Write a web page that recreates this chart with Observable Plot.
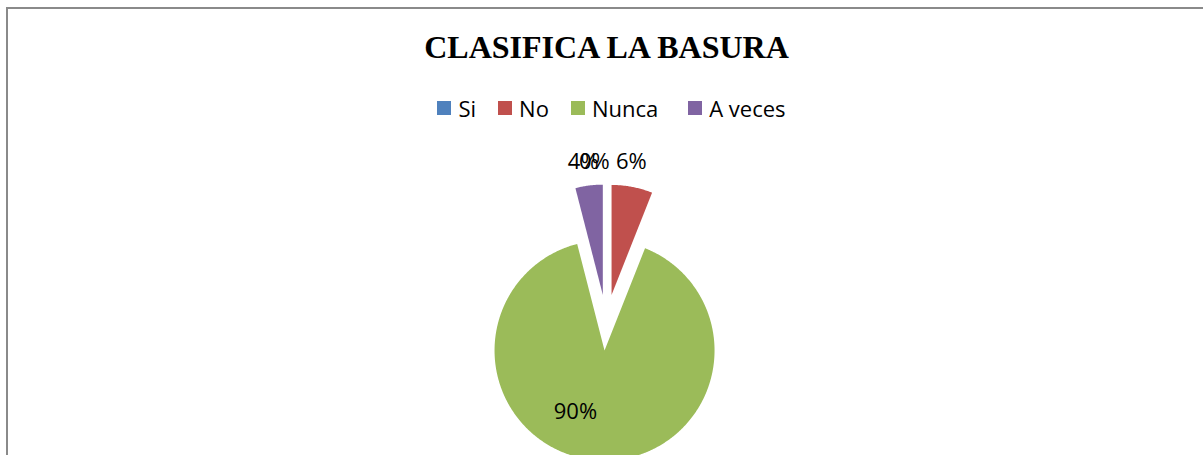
<!DOCTYPE html>
<html>
<head>
<meta charset="utf-8">
<script src="https://cdn.jsdelivr.net/npm/d3@7"></script>
<script src="https://cdn.jsdelivr.net/npm/@observablehq/plot@0.6"></script>
<style>
  html, body { margin: 0; padding: 0; background: #fff; }
  #root { position: relative; width: 1203px; height: 455px; overflow: hidden; background: #fff; }
  #frame { position: absolute; left: 6px; top: 7px; width: 1300px; height: 600px;
           border-left: 2px solid #8a8a8a; border-top: 2px solid #8a8a8a; box-sizing: border-box; }
  #title { position: absolute; left: 0; top: 31px; width: 1203px; padding-left: 10px; box-sizing: border-box;
           text-align: center; font-family: "Liberation Serif", "Times New Roman", serif; font-weight: bold;
           font-size: 32px; line-height: 32px; color: #000; }
  #legend { position: absolute; left: 0; top: 97px; width: 1203px; padding-left: 20px; box-sizing: border-box;
            display: flex; justify-content: center; }
  #legend > div { font-family: "Open Sans", sans-serif !important; font-size: 22px !important; line-height: 22px !important;
                  color: #000; margin: 0 !important; min-height: 0 !important; display: flex; align-items: center; }
  #legend span { margin-right: 22px !important; display: inline-flex; align-items: center; }
  #legend span:nth-of-type(3) { margin-right: 30px !important; }
  #legend span:last-of-type { margin-right: 0 !important; }
  #legend span > svg { margin-right: 7px !important; }
  #chart { position: absolute; left: 0; top: 130px; }
</style>
</head>
<body>
<div id="root">
  <div id="frame"></div>
  <div id="title"></div>
  <div id="legend"></div>
  <div id="chart"></div>
</div>
<script>
// ---- data ----
const chartTitle = "CLASIFICA LA BASURA";
const categories = ["Si", "No", "Nunca", "A veces"];
const percentages = [0, 6, 90, 4];
const colors = ["#4F81BD", "#C0504D", "#9BBB59", "#8064A2"];

// ---- layout constants (pixels) ----
const W = 1203, H = 325;
const R = 110;              // pie radius in px
const CX = 605.8, CY = 192; // unexploded pie centre inside the svg
const explode = 0.255;      // explosion, in radius units
const outsideR = 1.2;       // label distance for small slices
const insideR = 0.6;        // label distance for big slices
const nudge = { "Si": [-12, -0.5], "No": [-5, -3], "Nunca": [-25, -4], "A veces": [-3, -1.5] }; // px (x right, y down)

document.getElementById("title").textContent = chartTitle;

const rows = categories.map((c, i) => ({cat: c, value: percentages[i]}));
const arcs = d3.pie().sort(null).value(d => d.value)(rows);
const total = d3.sum(percentages);

const slicePts = [];
const labels = [];
arcs.forEach(p => {
  const cat = p.data.cat;
  const mid = (p.startAngle + p.endAngle) / 2;
  const ox = explode * Math.sin(mid), oy = explode * Math.cos(mid);
  if (p.endAngle > p.startAngle) {
    slicePts.push({cat, x: ox, y: oy});
    const n = Math.max(2, Math.ceil((p.endAngle - p.startAngle) / (Math.PI / 360)));
    for (let i = 0; i <= n; i++) {
      const a = p.startAngle + (p.endAngle - p.startAngle) * i / n;
      slicePts.push({cat, x: ox + Math.sin(a), y: oy + Math.cos(a)});
    }
  }
  const share = p.data.value / total;
  const lr = share > 0.5 ? insideR : outsideR;
  const [nx, ny] = nudge[cat] || [0, 0];
  labels.push({
    text: Math.round(share * 100) + "%",
    x: ox + lr * Math.sin(mid) + nx / R,
    y: oy + lr * Math.cos(mid) - ny / R
  });
});

const chart = Plot.plot({
  width: W,
  height: H,
  margin: 0,
  style: {fontFamily: "'Open Sans', sans-serif", background: "transparent", overflow: "visible"},
  x: {domain: [-CX / R, (W - CX) / R], axis: null},
  y: {domain: [-(H - CY) / R, CY / R], axis: null},
  color: {domain: categories, range: colors},
  marks: [
    Plot.line(slicePts, {x: "x", y: "y", z: "cat", fill: "cat", stroke: "none", curve: "linear-closed"}),
    Plot.text(labels, {x: "x", y: "y", text: "text", fontSize: 22, fill: "#000"})
  ]
});
document.getElementById("chart").appendChild(chart);

const legend = Plot.legend({
  color: {domain: categories, range: colors},
  legend: "swatches",
  swatchSize: 14,
  className: "lg",
  style: {fontFamily: "'Open Sans', sans-serif", fontSize: "22px", color: "#000"}
});
document.getElementById("legend").appendChild(legend);
</script>
</body>
</html>
